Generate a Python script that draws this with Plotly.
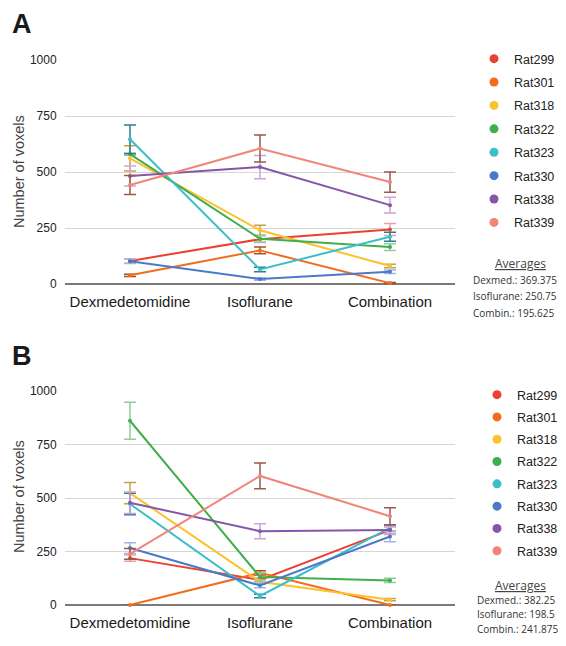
import plotly.graph_objects as go

# Browser page body has an 8px margin; the figure is sized to fill the rest.
OFF = 8
W, H = 566 - 2 * OFF, 646 - 2 * OFF

categories = ["Dexmedetomidine", "Isoflurane", "Combination"]
rats = ["Rat299", "Rat301", "Rat318", "Rat322", "Rat323", "Rat330", "Rat338", "Rat339"]
line_colors = ["#ea4131", "#f26c1e", "#fbc12e", "#3fae4b", "#3bbfca", "#4a79c9", "#8655a8", "#f2857a"]
err_colors = ["#eaa0a6", "#a3522e", "#c7a04c", "#8fcf98", "#2b7f8f", "#9db7e6", "#c9a6dc", "#9b5a4a"]

# Panel A values (per rat: Dexmedetomidine, Isoflurane, Combination)
a_rat299 = [103, 200, 243]
a_rat301 = [39, 150, 4]
a_rat318 = [561, 240, 80]
a_rat322 = [580, 202, 165]
a_rat323 = [646, 65, 211]
a_rat330 = [102, 22, 55]
a_rat338 = [482, 522, 352]
a_rat339 = [442, 605, 455]
a_err299 = [10, 15, 27]
a_err301 = [5, 15, 3]
a_err318 = [56, 22, 8]
a_err322 = [5, 15, 15]
a_err323 = [64, 10, 20]
a_err330 = [10, 5, 8]
a_err338 = [45, 52, 35]
a_err339 = [42, 60, 45]

# Panel B values
b_rat299 = [219, 117, 350]
b_rat301 = [0, 150, 0]
b_rat318 = [523, 109, 25]
b_rat322 = [861, 131, 115]
b_rat323 = [472, 42, 360]
b_rat330 = [266, 91, 320]
b_rat338 = [478, 345, 350]
b_rat339 = [239, 603, 415]
b_err299 = [15, 10, 20]
b_err301 = [0, 10, 0]
b_err318 = [50, 10, 5]
b_err322 = [86, 20, 10]
b_err323 = [50, 8, 15]
b_err330 = [25, 10, 25]
b_err338 = [50, 35, 15]
b_err339 = [25, 60, 40]

avg_labels = ["Dexmed.", "Isoflurane", "Combin."]
avg_a = ["369.375", "250.75", "195.625"]
avg_b = ["382.25", "198.5", "241.875"]

y_ticks = [0, 250, 500, 750, 1000]

panel_a = [a_rat299, a_rat301, a_rat318, a_rat322, a_rat323, a_rat330, a_rat338, a_rat339]
panel_a_err = [a_err299, a_err301, a_err318, a_err322, a_err323, a_err330, a_err338, a_err339]
panel_b = [b_rat299, b_rat301, b_rat318, b_rat322, b_rat323, b_rat330, b_rat338, b_rat339]
panel_b_err = [b_err299, b_err301, b_err318, b_err322, b_err323, b_err330, b_err338, b_err339]


def px(x):
    return (x - OFF) / W


def py(y):
    return 1 - (y - OFF) / H


FONT = "Liberation Sans, Arial, Helvetica, sans-serif"
HUM = "Open Sans, Noto Sans, sans-serif"

fig = go.Figure()

for panel, (vals, errs, xa, ya, lg) in enumerate([
    (panel_a, panel_a_err, "x", "y", "legend"),
    (panel_b, panel_b_err, "x2", "y2", "legend2"),
]):
    for i, name in enumerate(rats):
        fig.add_trace(go.Scatter(
            x=categories, y=vals[i], mode="lines+markers", name=name,
            line=dict(color=line_colors[i], width=2),
            marker=dict(color=line_colors[i], size=4),
            error_y=dict(type="data", array=errs[i], visible=True,
                         color=err_colors[i], thickness=1.5, width=6),
            xaxis=xa, yaxis=ya, showlegend=False, cliponaxis=False,
        ))
    for i, name in enumerate(rats):
        fig.add_trace(go.Scatter(
            x=[None], y=[None], mode="markers", name=name,
            marker=dict(color=line_colors[i], size=9),
            xaxis=xa, yaxis=ya, showlegend=True, legend=lg,
            legendgroup=f"{panel}-{name}",
        ))

xdom = [px(65), px(455)]
axis_common = dict(showgrid=False, showline=False, zeroline=False,
                   ticks="outside", ticklen=4, tickcolor="rgba(0,0,0,0)",
                   tickfont=dict(family=FONT, size=15, color="#1a1a1a"),
                   categoryorder="array", categoryarray=categories,
                   range=[-0.5, 2.5], fixedrange=True)
yaxis_common = dict(range=[0, 1000], tickvals=y_ticks, showgrid=True,
                    gridcolor="#d6d6d6", gridwidth=1, zeroline=True,
                    zerolinecolor="#7a7a7a", zerolinewidth=2,
                    ticks="outside", ticklen=5, tickcolor="rgba(0,0,0,0)",
                    tickfont=dict(family=FONT, size=12, color="#222"),
                    showline=False, fixedrange=True)

LEG_FS = 12.5
legend_common = dict(xanchor="left", yanchor="top", bgcolor="rgba(0,0,0,0)",
                     font=dict(family=FONT, size=LEG_FS, color="#222"),
                     traceorder="grouped", itemsizing="trace", borderwidth=0)
item_h = LEG_FS * 1.3 + 3

fig.update_layout(
    width=W, height=H, margin=dict(l=0, r=0, t=0, b=0, autoexpand=False),
    paper_bgcolor="white", plot_bgcolor="white",
    xaxis=dict(domain=xdom, anchor="y", **axis_common),
    yaxis=dict(domain=[py(284), py(60)], anchor="x", **yaxis_common),
    xaxis2=dict(domain=xdom, anchor="y2", **axis_common),
    yaxis2=dict(domain=[py(605), py(391)], anchor="x2", **yaxis_common),
    legend=dict(x=px(474), y=py(44), tracegroupgap=23.4 - item_h, **legend_common),
    legend2=dict(x=px(477), y=py(380), tracegroupgap=22.3 - item_h, **legend_common),
)

ann = []
ann.append(dict(text="<b>A</b>", x=px(22), y=py(24), xref="paper", yref="paper",
                xanchor="center", yanchor="middle",
                showarrow=False, font=dict(family=FONT, size=27, color="#1a1a1a")))
ann.append(dict(text="<b>B</b>", x=px(22), y=py(356), xref="paper", yref="paper",
                xanchor="center", yanchor="middle",
                showarrow=False, font=dict(family=FONT, size=27, color="#1a1a1a")))
for yc in [172, 497]:
    ann.append(dict(text="Number of voxels", x=px(19), y=py(yc), xref="paper", yref="paper",
                    xanchor="center", yanchor="middle", textangle=-90, showarrow=False,
                    font=dict(family=FONT, size=14.5, color="#444")))

for (avgs, ytitle, gap, xleft) in [(avg_a, 263, 16.5, 472), (avg_b, 585, 14.5, 476)]:
    ann.append(dict(text="<u>Averages</u>", x=px(520), y=py(ytitle), xref="paper", yref="paper",
                    xanchor="center", yanchor="middle",
                    showarrow=False, font=dict(family=HUM, size=12, color="#444")))
    for k, (lab, val) in enumerate(zip(avg_labels, avgs)):
        ann.append(dict(text=f"{lab}: {val}", x=px(xleft), y=py(ytitle + gap * (k + 1)),
                        xref="paper", yref="paper", xanchor="left", yanchor="middle",
                        showarrow=False, borderpad=0,
                        font=dict(family=HUM, size=10, color="#333")))

fig.update_layout(annotations=ann)

fig.write_html("out.html")
